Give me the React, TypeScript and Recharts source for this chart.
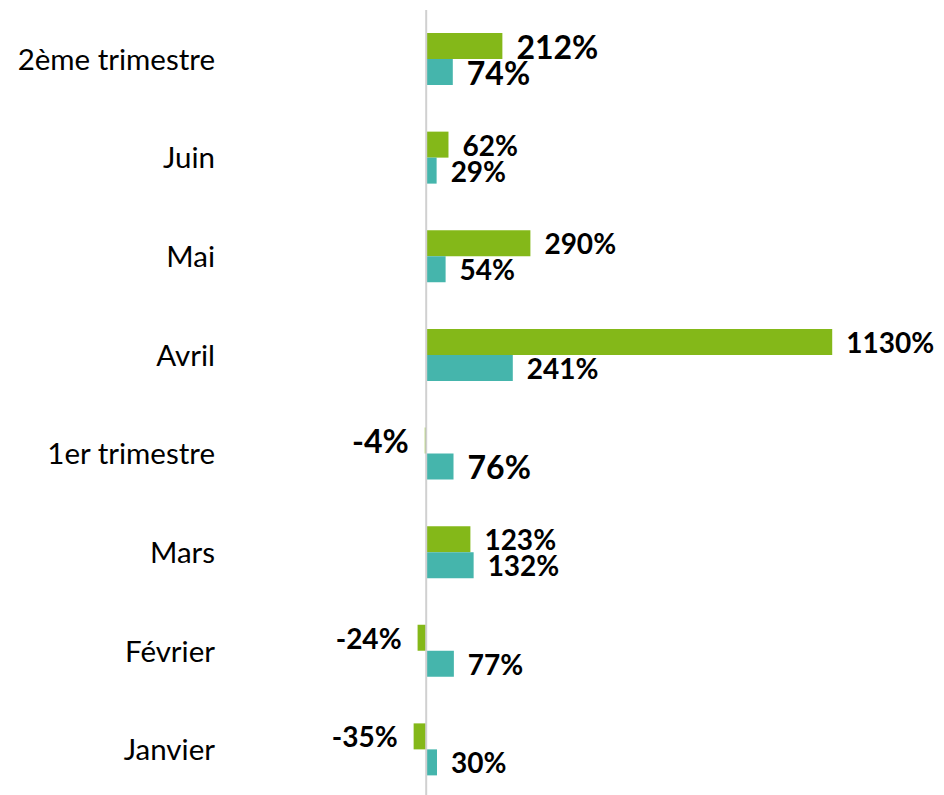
import React from "react";
import { BarChart, Bar, XAxis, YAxis, ReferenceLine, LabelList } from "recharts";

const categories = [
  "2ème trimestre",
  "Juin",
  "Mai",
  "Avril",
  "1er trimestre",
  "Mars",
  "Février",
  "Janvier",
];
const greenValues = [212, 62, 290, 1130, -4, 123, -24, -35];
const tealValues = [74, 29, 54, 241, 76, 132, 77, 30];

const data = categories.map((name, i) => ({
  name,
  green: greenValues[i],
  teal: tealValues[i],
}));

const FONT = "Lato, 'Open Sans', sans-serif";

function ValueLabel(props: any) {
  const { x, y, width, height, value, index } = props;
  const left = Math.min(x, x + width);
  const right = Math.max(x, x + width);
  const isQuarter = categories[index].includes("trimestre");
  const neg = value < 0;
  return (
    <text
      x={neg ? left - 16 : right + 14}
      y={y + height / 2}
      textAnchor={neg ? "end" : "start"}
      dominantBaseline="central"
      fontFamily={FONT}
      fontWeight={700}
      fontSize={isQuarter ? 32 : 28}
      fill="#000"
    >
      {value}%
    </text>
  );
}

export default function App() {
  return (
    <div style={{ position: "absolute", left: 0, top: 0, width: 944, height: 795, overflow: "hidden", background: "#fff" }}>
      <BarChart
        width={944}
        height={800}
        data={data}
        layout="vertical"
        margin={{ top: 10, right: 4, bottom: 1, left: 0 }}
        barGap={0}
        barSize={26}
      >
        <XAxis type="number" domain={[-560, 1430]} hide />
        <YAxis
          type="category"
          dataKey="name"
          width={225}
          axisLine={false}
          tickLine={false}
          tickSize={0}
          tickMargin={10}
          tick={{ fontSize: 29.5, fill: "#000", fontFamily: FONT }}
        />
        <ReferenceLine x={0} stroke="#d0d0d0" strokeWidth={2} />
        <Bar dataKey="green" fill="#84B819" isAnimationActive={false}>
          <LabelList dataKey="green" content={ValueLabel} />
        </Bar>
        <Bar dataKey="teal" fill="#45B5AC" isAnimationActive={false}>
          <LabelList dataKey="teal" content={ValueLabel} />
        </Bar>
      </BarChart>
    </div>
  );
}
